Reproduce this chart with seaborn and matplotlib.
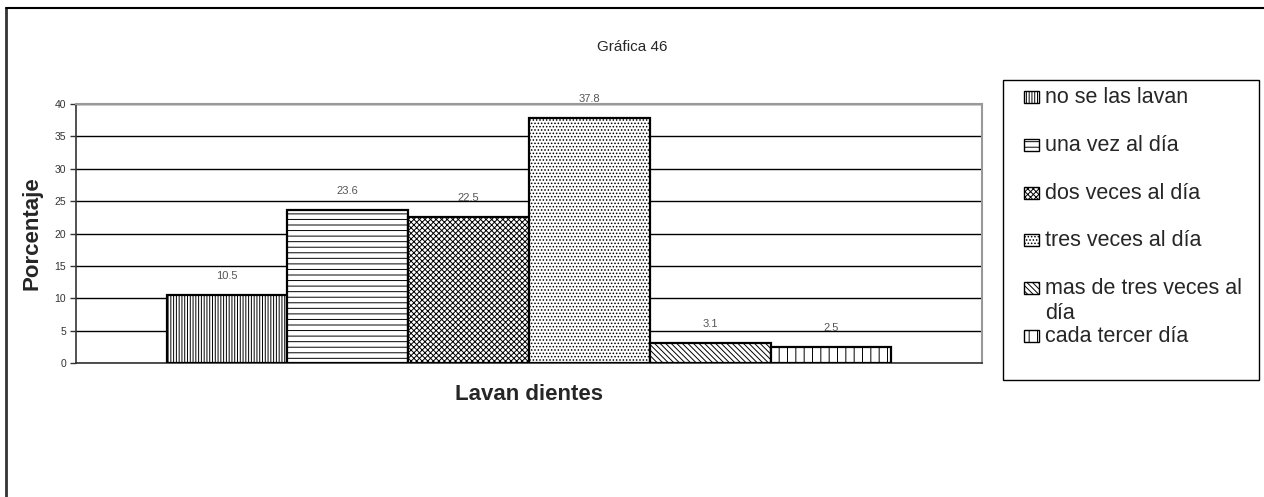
import pandas as pd
import matplotlib.pyplot as plt
import seaborn as sns
from matplotlib.patches import Rectangle
from matplotlib.lines import Line2D

# datos
categorias = ['no se las lavan', 'una vez al día', 'dos veces al día',
              'tres veces al día', 'mas de tres veces al día', 'cada tercer día']
porcentajes = [10.5, 23.6, 22.5, 37.8, 3.1, 2.5]
tramas = ['||||||', '---', 'xxxxxx', '.....', '\\' * 6, '||']
etiquetas_leyenda = ['no se las lavan', 'una vez al día', 'dos veces al día',
                     'tres veces al día', 'mas de tres veces al\ndía', 'cada tercer día']

df = pd.DataFrame({'grupo': [''] * len(categorias),
                   'frecuencia': categorias,
                   'porcentaje': porcentajes})

sns.set_style('white')
plt.rcParams['font.family'] = ['Liberation Sans', 'DejaVu Sans']
plt.rcParams['hatch.linewidth'] = 0.7

W, H = 1264, 497
fig = plt.figure(figsize=(W / 100, H / 100), dpi=100)
ax = fig.add_axes([76 / W, 1 - 363 / H, (982 - 76) / W, (363 - 104) / H])

sns.barplot(data=df, x='grupo', y='porcentaje', hue='frecuencia',
            hue_order=categorias, palette=['white'] * 6, width=0.8,
            edgecolor='black', linewidth=1.6, legend=False, ax=ax)

for cont, trama in zip(ax.containers, tramas):
    for barra in cont:
        barra.set_hatch(trama)
        barra.set_zorder(3)
    ax.bar_label(cont, labels=[f'{v:g}' for v in cont.datavalues],
                 padding=10, fontsize=8, color='#555555')

ax.set_xlim(-0.5, 0.5)
ax.set_ylim(0, 40)
ax.set_yticks(range(0, 41, 5))
ax.yaxis.grid(True, color='black', linewidth=1)
ax.set_axisbelow(True)
ax.tick_params(axis='y', labelsize=7.5, length=4, width=1, left=True,
               colors='#333333', pad=3)
ax.set_xticks([])
for lado in ['top', 'right']:
    ax.spines[lado].set_color('#999999')
    ax.spines[lado].set_linewidth(1.5)
for lado in ['left', 'bottom']:
    ax.spines[lado].set_color('#333333')
    ax.spines[lado].set_linewidth(1.2)

ax.set_xlabel('Lavan dientes', fontsize=16, fontweight='bold', labelpad=15)
ax.set_ylabel('Porcentaje', fontsize=16, fontweight='bold', labelpad=9)
fig.text(632 / W, 1 - 47 / H, 'Gráfica 46', ha='center', va='center', fontsize=11)

# leyenda (caja fija como en la hoja original)
fig.patches.append(Rectangle((1003 / W, 1 - 380 / H), (1259 - 1003) / W,
                             (380 - 80) / H, transform=fig.transFigure,
                             fill=False, edgecolor='black', linewidth=1))
for i, (texto, trama) in enumerate(zip(etiquetas_leyenda, tramas)):
    yc = 97 + i * 47.8
    fig.patches.append(Rectangle((1024 / W, 1 - (yc + 6) / H), 15 / W, 12 / H,
                                 transform=fig.transFigure, facecolor='white',
                                 edgecolor='black', hatch=trama, linewidth=1))
    for j, linea in enumerate(texto.split('\n')):
        fig.text(1045 / W, 1 - (yc + 6 + j * 25) / H, linea, ha='left',
                 va='baseline', fontsize=15.5)

# marco exterior
fig.add_artist(Line2D([6 / W, 6 / W], [0, 1 - 8 / H],
                      transform=fig.transFigure, color='#333333', linewidth=2))
fig.add_artist(Line2D([6 / W, 1], [1 - 8 / H, 1 - 8 / H],
                      transform=fig.transFigure, color='black', linewidth=1.5))

fig.savefig('out.png', dpi=100)
